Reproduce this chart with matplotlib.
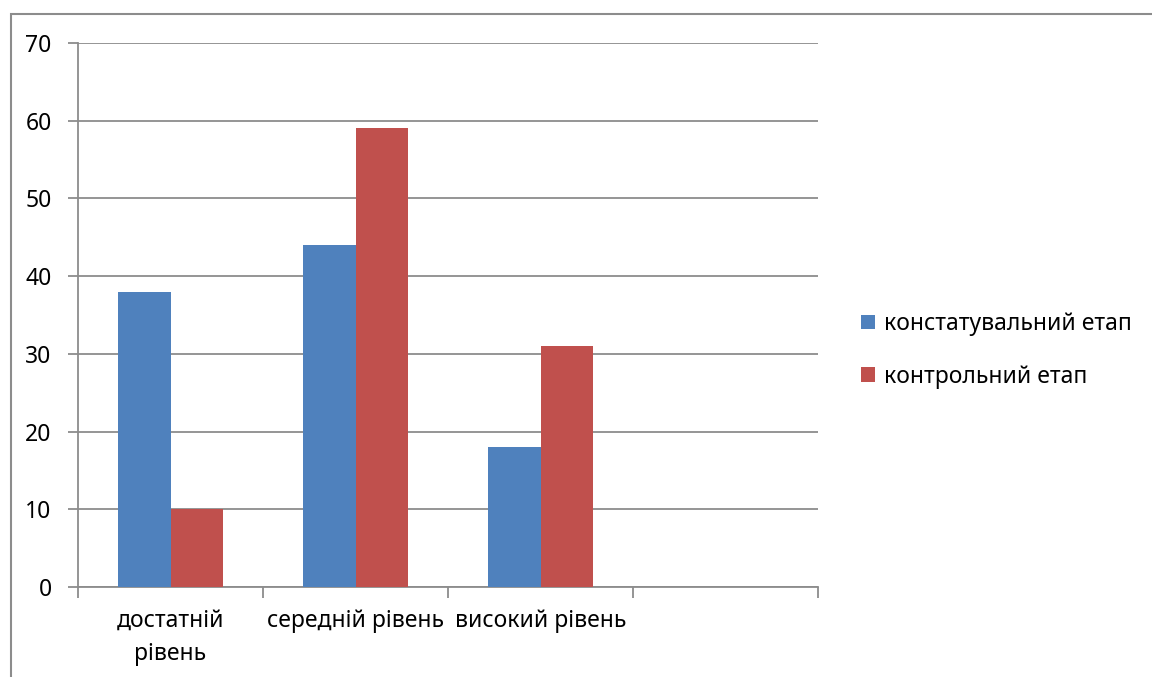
import matplotlib.pyplot as plt
import numpy as np
from matplotlib.patches import Rectangle

plt.rcParams['font.family'] = ['Noto Sans', 'DejaVu Sans']

# Дані діаграми
categories = ['достатній\nрівень', 'середній рівень', 'високий рівень', '']
konstat = [38, 44, 18, np.nan]
kontrol = [10, 59, 31, np.nan]
series_names = ['констатувальний етап', 'контрольний етап']
colors = ['#4F81BD', '#C0504D']
yticks = [0, 10, 20, 30, 40, 50, 60, 70]

fig = plt.figure(figsize=(11.52, 6.77), dpi=100)
ax = fig.add_axes([78/1152, 90/677, 740/1152, 544/677])

x = np.arange(len(categories))
width = 1 / 3.5
ax.bar(x - width/2, konstat, width, color=colors[0], label=series_names[0], zorder=3)
ax.bar(x + width/2, kontrol, width, color=colors[1], label=series_names[1], zorder=3)

ax.set_xlim(-0.5, len(categories) - 0.5)
ax.set_ylim(0, 70)
ax.set_yticks(yticks)
ax.yaxis.grid(True, color='#8c8c8c', linewidth=1.3, zorder=0)

# підписи категорій по центру, засічки між категоріями
ax.set_xticks(x)
ax.set_xticklabels(categories, fontsize=16.5, linespacing=1.5)
ax.tick_params(axis='x', which='major', length=0, pad=16)
ax.set_xticks(np.arange(len(categories) + 1) - 0.5, minor=True)
ax.tick_params(axis='x', which='minor', length=8, width=1.3, color='#8c8c8c', direction='out')
ax.tick_params(axis='y', length=7, width=1.3, color='#8c8c8c', labelsize=16.5, pad=12)

for s in ['top', 'right']:
    ax.spines[s].set_visible(False)
for s in ['left', 'bottom']:
    ax.spines[s].set_color('#8c8c8c')
    ax.spines[s].set_linewidth(1.3)

ax.legend(loc='center left', bbox_to_anchor=(1.03, 0.435), frameon=False,
          fontsize=16.5, handlelength=0.6, handleheight=0.6, handletextpad=0.4,
          labelspacing=1.25)

# рамка області діаграми
fig.patches.append(Rectangle((11/1152, -0.05), 1.2, (677 - 14)/677 + 0.05,
                             transform=fig.transFigure, fill=False,
                             edgecolor='#8c8c8c', linewidth=1.5))

fig.savefig('out.png', dpi=100)
